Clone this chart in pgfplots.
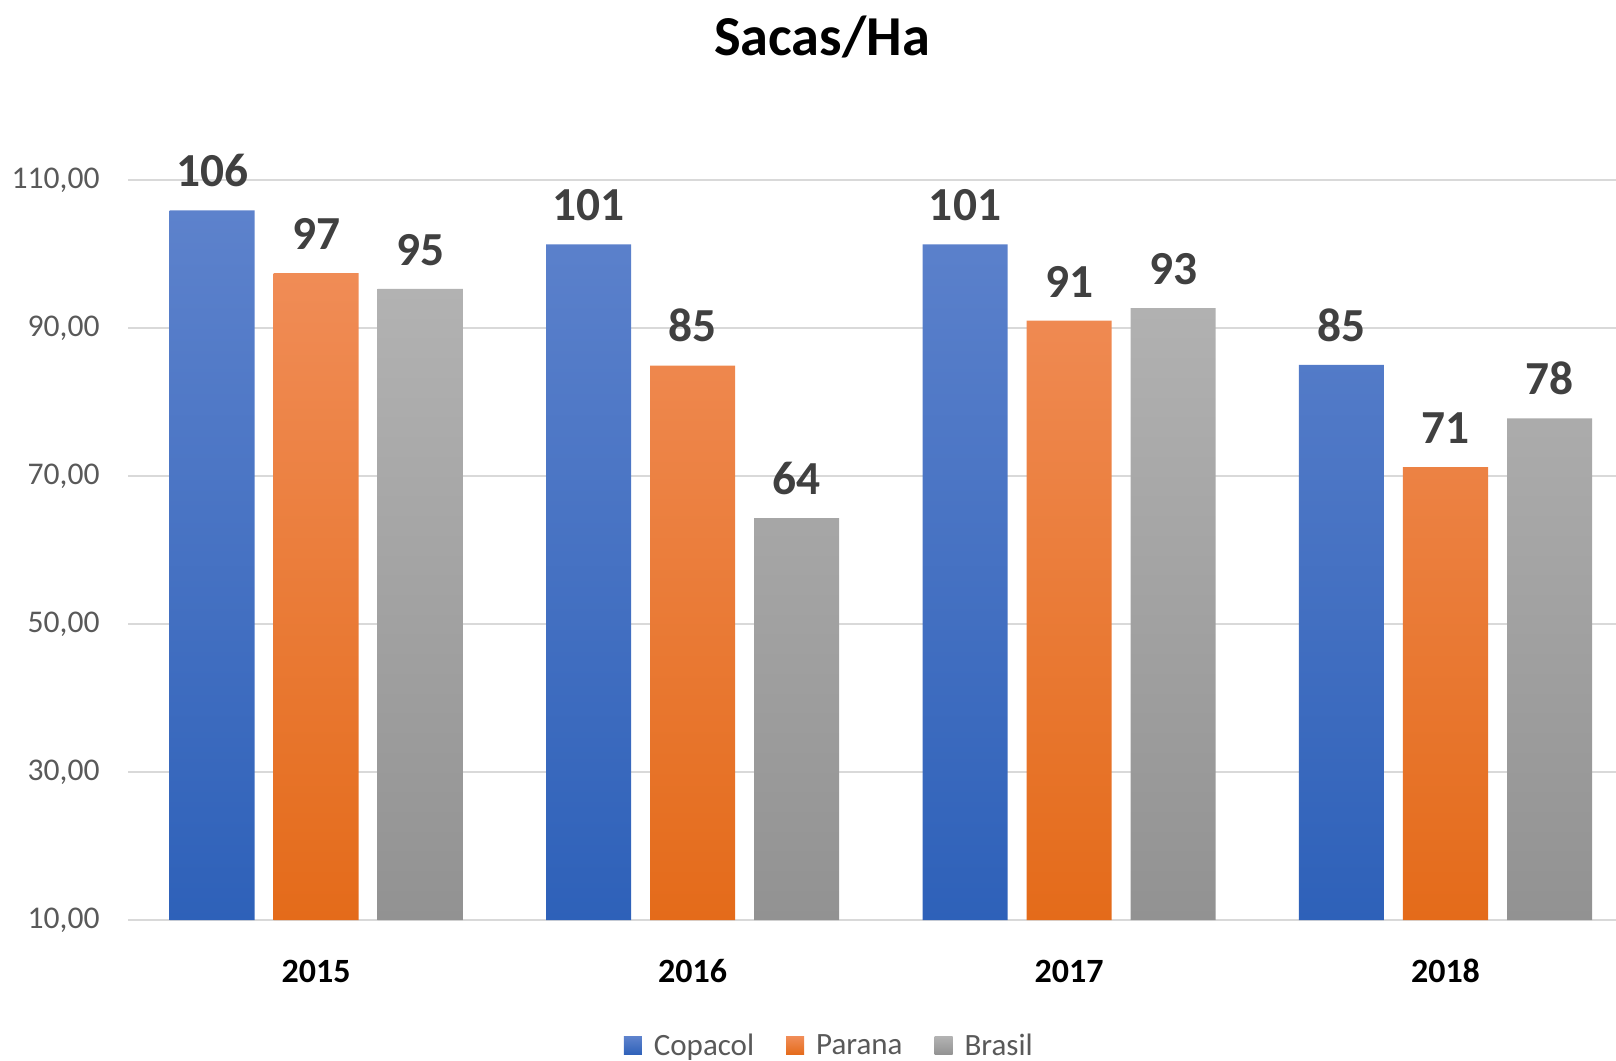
\documentclass[border=0pt]{standalone}
\usepackage{fontspec}
\setmainfont{Carlito}
\usepackage{pgfplots}
\pgfplotsset{compat=1.18}
\definecolor{bluetop}{HTML}{5D82CC}
\definecolor{bluebot}{HTML}{2E61B9}
\definecolor{orgtop}{HTML}{F08C56}
\definecolor{orgbot}{HTML}{E46B1A}
\definecolor{grytop}{HTML}{B2B2B2}
\definecolor{grybot}{HTML}{929292}
\definecolor{gridc}{HTML}{D9D9D9}
\definecolor{ticktxt}{HTML}{595959}
\definecolor{labtxt}{HTML}{404040}
\begin{document}
\begin{tikzpicture}
\useasboundingbox (0,0) rectangle (808pt,530pt);
\begin{axis}[
  at={(64pt,70pt)}, anchor=south west,
  scale only axis, width=744pt, height=370pt,
  xmin=-0.5, xmax=3.453, ymin=10, ymax=110,
  clip=false,
  axis line style={draw=none},
  tick style={draw=none},
  ytick={10,30,50,70,90,110},
  ymajorgrids, grid style={gridc, line width=1pt},
  xtick={0,1,2,3},
  xticklabels={2015,2016,2017,2018},
  every x tick label/.append style={anchor=center, yshift=-25.5pt, inner sep=0pt, font=\fontsize{17pt}{20pt}\selectfont\bfseries, text=black},
  every y tick label/.append style={anchor=east, xshift=-14pt, inner sep=0pt, font=\fontsize{15.8pt}{19pt}\selectfont, text=ticktxt},
  yticklabel style={/pgf/number format/.cd, fixed, fixed zerofill, precision=2, use comma, assume math mode=true},
  nodes near coords={\pgfmathprintnumber[fixed,precision=0,assume math mode=true]{\pgfplotspointmeta}},
  every node near coord/.append style={anchor=south, inner sep=0pt, yshift=11.5pt, font=\fontsize{23.7pt}{28pt}\selectfont\bfseries, text=labtxt},
  legend style={at={(0.472,-0.170)}, anchor=center, draw=none, fill=none, legend columns=-1,
    font=\fontsize{15.5pt}{19pt}\selectfont, text=ticktxt, inner sep=0pt,
    /tikz/every odd column/.append style={column sep=4pt},
    /tikz/every even column/.append style={column sep=14pt}},
  legend image code/.code={\path[#1, draw=none] (0pt,-4.5pt) rectangle (9pt,4.5pt);},
]
\addplot[ybar, bar shift=0pt, bar width=0.2259, draw=none, top color=bluetop, bottom color=bluebot]
  coordinates {(-0.2764,105.9) (0.7236,101.3) (1.7236,101.3) (2.7236,85.0)};
\addlegendentry{Copacol}
\addplot[ybar, bar shift=0pt, bar width=0.2259, draw=none, top color=orgtop, bottom color=orgbot]
  coordinates {(0,97.4) (1,84.9) (2,91.0) (3,71.2)};
\addlegendentry{Parana}
\addplot[ybar, bar shift=0pt, bar width=0.2259, draw=none, top color=grytop, bottom color=grybot]
  coordinates {(0.2764,95.3) (1.2764,64.3) (2.2764,92.7) (3.2764,77.8)};
\addlegendentry{Brasil}
\end{axis}
\node[font=\fontsize{28.2pt}{33pt}\selectfont\bfseries, text=black, inner sep=0pt] at (411pt,511.5pt) {Sacas/Ha};
\end{tikzpicture}
\end{document}
